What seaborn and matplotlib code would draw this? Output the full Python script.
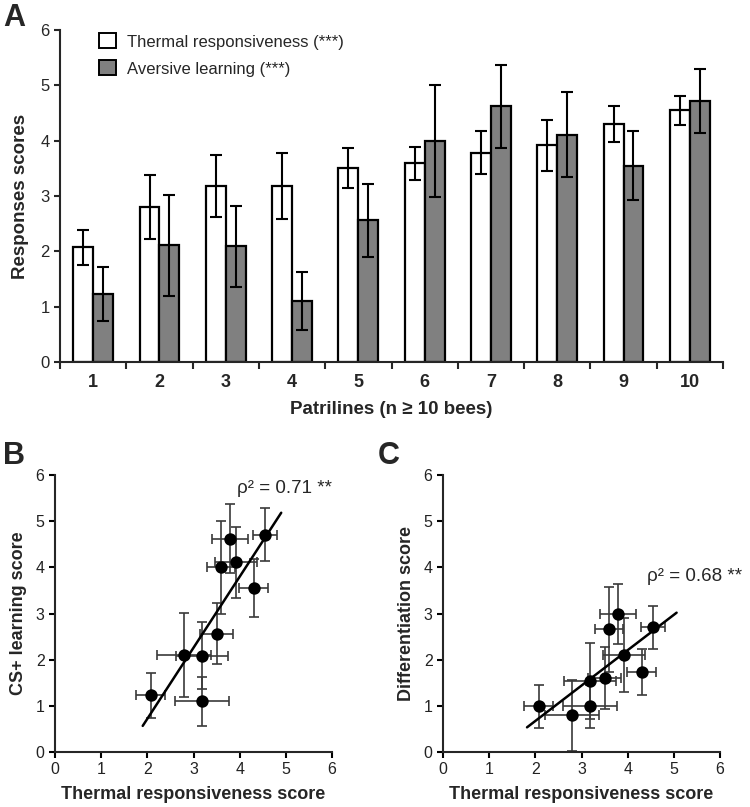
import numpy as np
import pandas as pd
import matplotlib
matplotlib.use("Agg")
import matplotlib.pyplot as plt
from matplotlib.patches import Patch
from matplotlib.ticker import FixedLocator
import seaborn as sns

# ---------------- data ----------------
patrilines = ["1", "2", "3", "4", "5", "6", "7", "8", "9", "10"]
thermal = [2.07, 2.80, 3.18, 3.18, 3.50, 3.59, 3.78, 3.92, 4.30, 4.55]
thermal_err = [0.31, 0.58, 0.56, 0.59, 0.36, 0.30, 0.39, 0.46, 0.32, 0.26]
aversive = [1.23, 2.11, 2.09, 1.10, 2.56, 4.00, 4.62, 4.11, 3.55, 4.71]
aversive_err = [0.49, 0.91, 0.73, 0.53, 0.66, 1.01, 0.75, 0.77, 0.62, 0.58]
differentiation = [0.99, 0.80, 1.54, 0.99, 1.61, 2.66, 2.99, 2.10, 1.74, 2.70]
differentiation_err = [0.46, 0.77, 0.83, 0.47, 0.67, 0.92, 0.65, 0.80, 0.50, 0.47]
series_names = ["Thermal responsiveness (***)", "Aversive learning (***)"]
rho_B = "ρ² = 0.71 **"
rho_C = "ρ² = 0.68 **"

sns.set_style("ticks")
plt.rcParams["font.family"] = ["Liberation Sans", "DejaVu Sans"]
plt.rcParams["axes.linewidth"] = 1.5

W, H = 750, 807
fig = plt.figure(figsize=(W / 100, H / 100), dpi=100)

def ax_px(l, t, r, b):
    return fig.add_axes([l / W, 1 - b / H, (r - l) / W, (b - t) / H])

axA = ax_px(60, 30, 723, 362)
axB = ax_px(55, 475, 332, 752)
axC = ax_px(443, 475, 720, 752)

# ---------------- Panel A ----------------
df = pd.DataFrame({
    "Patriline": patrilines * 2,
    "Measure": [series_names[0]] * len(patrilines) + [series_names[1]] * len(patrilines),
    "Score": thermal + aversive,
})
sns.barplot(data=df, x="Patriline", y="Score", hue="Measure",
            palette={series_names[0]: "white", series_names[1]: "#808080"},
            edgecolor="black", linewidth=1.6, width=0.6, errorbar=None,
            ax=axA, legend=False)
for cont, errs in zip(axA.containers, [thermal_err, aversive_err]):
    xs = [b.get_x() + b.get_width() / 2 for b in cont]
    ys = [b.get_height() for b in cont]
    axA.errorbar(xs, ys, yerr=errs, fmt="none", ecolor="black",
                 elinewidth=1.5, capsize=4.5, capthick=1.5, zorder=5)

axA.set_xlim(-0.5, len(patrilines) - 0.5)
axA.set_ylim(0, 6)
axA.set_yticks(range(7))
axA.tick_params(axis="y", labelsize=12, length=4, width=1.5, direction="out")
axA.tick_params(axis="x", which="major", length=0, labelsize=13, pad=9)
axA.xaxis.set_minor_locator(FixedLocator(np.arange(-0.5, len(patrilines), 1.0)))
axA.tick_params(axis="x", which="minor", length=5, width=1.5, direction="out")
for lab in axA.get_xticklabels():
    lab.set_fontweight("bold")
axA.set_xlabel("Patrilines (n ≥ 10 bees)", fontsize=13.5, fontweight="bold", labelpad=7)
axA.set_ylabel("Responses scores", fontsize=13.5, fontweight="bold", labelpad=8)
sns.despine(ax=axA)

handles = [Patch(facecolor="white", edgecolor="black", linewidth=1.4),
           Patch(facecolor="#808080", edgecolor="black", linewidth=1.4)]
axA.legend(handles, series_names, loc="upper left", bbox_to_anchor=(0.036, 1.035),
           frameon=False, fontsize=12, handlelength=1.0, handleheight=1.0,
           handletextpad=0.7, labelspacing=0.65)

fig.text(3 / W, 1 - 18 / H, "A", fontsize=22, fontweight="bold", va="center", ha="left")

# ---------------- Panels B and C ----------------
def scatter_panel(ax, y, yerr, ylabel, line_x, text, text_xy, text_ha):
    ax.errorbar(thermal, y, xerr=thermal_err, yerr=yerr, fmt="none",
                ecolor="#3a3a3a", elinewidth=1.2, capsize=3.5, capthick=1.2, zorder=2)
    sns.scatterplot(x=thermal, y=y, color="black", s=80, edgecolor="black",
                    linewidth=0, ax=ax, zorder=4)
    slope, intercept = np.polyfit(thermal, y, 1)
    lx = np.array(line_x)
    sns.lineplot(x=lx, y=slope * lx + intercept, color="black", linewidth=1.8,
                 ax=ax, zorder=3)
    ax.set_xlim(0, 6)
    ax.set_ylim(0, 6)
    ax.set_xticks(range(7))
    ax.set_yticks(range(7))
    ax.tick_params(labelsize=11.5, length=4, width=1.5, direction="out", colors="black",
                   labelcolor="#222222")
    ax.set_xlabel("Thermal responsiveness score", fontsize=13, fontweight="bold", labelpad=6)
    ax.set_ylabel(ylabel, fontsize=13, fontweight="bold", labelpad=6)
    ax.text(text_xy[0], text_xy[1], text, fontsize=13.5, ha=text_ha, va="center")
    sns.despine(ax=ax)

scatter_panel(axB, aversive, aversive_err, "CS+ learning score", [1.9, 4.9],
              rho_B, (6.0, 5.7), "right")
scatter_panel(axC, differentiation, differentiation_err, "Differentiation score",
              [1.82, 5.06], rho_C, (4.42, 3.8), "left")

fig.text(3 / W, 1 - 456 / H, "B", fontsize=22, fontweight="bold", va="center", ha="left")
fig.text(378 / W, 1 - 456 / H, "C", fontsize=22, fontweight="bold", va="center", ha="left")

fig.savefig("out.png", dpi=100)
